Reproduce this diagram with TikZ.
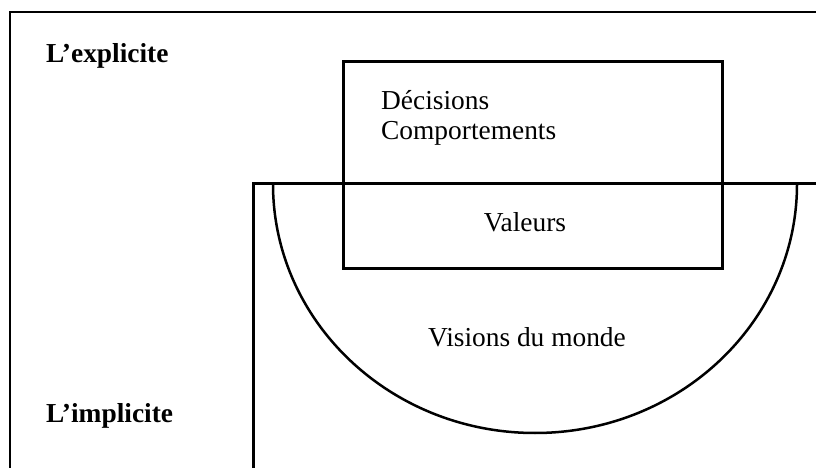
\documentclass[tikz,border=0pt]{standalone}
\usepackage{fontspec}
\setmainfont{Liberation Serif}
\begin{document}
\begin{tikzpicture}[x=1bp,y=-1bp,
  frameline/.style={line width=1.6bp},
  boxline/.style={line width=3bp},
  arcline/.style={line width=2.5bp},
  lbl/.style={inner sep=0pt,anchor=base west,font=\fontsize{27.5}{33}\selectfont},
  blbl/.style={lbl,font=\fontsize{27.5}{33}\selectfont\bfseries},
  clbl/.style={inner sep=0pt,anchor=base,font=\fontsize{27.5}{33}\selectfont}]
\useasboundingbox (0,0) rectangle (816,468);
% outer frame
\coordinate (fbl) at (10,468);
\coordinate (ftl) at (10,12);
\coordinate (ftr) at (816,12);
\draw[frameline] (fbl) -- (ftl) -- (ftr);
% L shape
\coordinate (lbl) at (253,468);
\coordinate (ltl) at (253,184);
\coordinate (ltr) at (816,184);
\draw[boxline] (lbl) -- (ltl) -- (ltr);
% half ellipse
\coordinate (aL) at (273,184);
\draw[arcline] (aL) arc[start angle=180,end angle=360,x radius=262,y radius=-249];
% rectangle
\coordinate (r1) at (343,62);
\coordinate (r2) at (722,269);
\draw[boxline] (r1) rectangle (r2);
% texts
\node[blbl] (expl) at (46,63) {L’explicite};
\node[blbl] (impl) at (46,422) {L’implicite};
\node[lbl] (dec) at (381,110) {Décisions};
\node[lbl] (comp) at (381,140) {Comportements};
\node[clbl] (val) at (525,232) {Valeurs};
\node[clbl] (vis) at (527,347) {Visions du monde};
\end{tikzpicture}
\end{document}
